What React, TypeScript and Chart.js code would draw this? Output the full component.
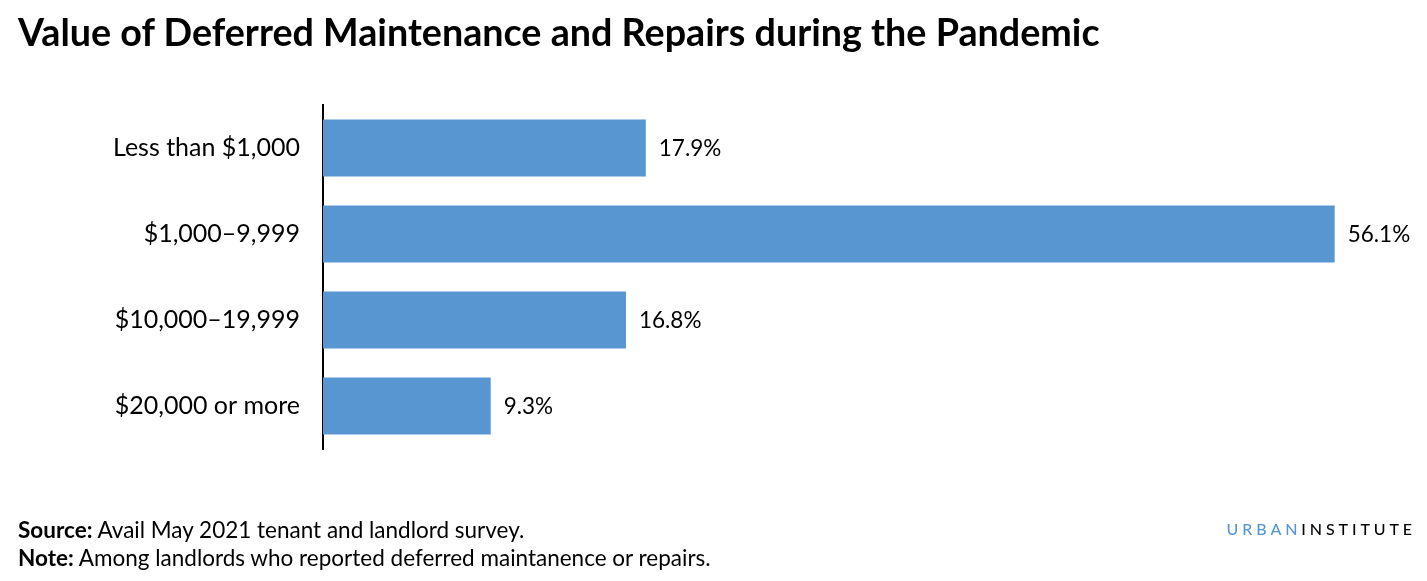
import React, { useEffect, useRef } from "react";
import { Chart, registerables } from "chart.js";

Chart.register(...registerables);

const categories = ["Less than $1,000", "$1,000–9,999", "$10,000–19,999", "$20,000 or more"];
const values = [17.9, 56.1, 16.8, 9.3];
const valueLabels = ["17.9%", "56.1%", "16.8%", "9.3%"];

const BAR_COLOR = "#5796d1";
const FONT = "Lato, 'Noto Sans', sans-serif";

const valueLabelPlugin = {
  id: "valueLabels",
  afterDatasetsDraw(chart: any) {
    const { ctx } = chart;
    const meta = chart.getDatasetMeta(0);
    ctx.save();
    ctx.font = `22.5px ${FONT}`;
    ctx.fillStyle = "#000";
    ctx.textAlign = "left";
    ctx.textBaseline = "middle";
    meta.data.forEach((bar: any, i: number) => {
      ctx.fillText(valueLabels[i], bar.x + 13, bar.y + 1);
    });
    ctx.restore();
  },
};

export default function App() {
  const ref = useRef<HTMLCanvasElement>(null);
  useEffect(() => {
    if (!ref.current) return;
    const chart = new Chart(ref.current, {
      type: "bar",
      data: {
        labels: categories,
        datasets: [
          {
            data: values,
            backgroundColor: BAR_COLOR,
            borderWidth: 0,
            barPercentage: 0.665,
            categoryPercentage: 1,
          },
        ],
      },
      options: {
        indexAxis: "y",
        animation: false,
        responsive: false,
        maintainAspectRatio: false,
        layout: { padding: { top: 97, bottom: 124, left: 0, right: 14 } },
        plugins: { legend: { display: false }, tooltip: { enabled: false } },
        scales: {
          x: { display: false, min: 0, max: 60 },
          y: {
            afterFit: (scale: any) => {
              scale.width = 315;
            },
            grid: { display: false, drawTicks: false },
            border: { display: true, color: "#000", width: 2 },
            ticks: {
              padding: 23,
              color: "#000",
              font: { family: FONT, size: 25 },
            },
          },
        },
      },
      plugins: [valueLabelPlugin],
    });
    return () => chart.destroy();
  }, []);

  return (
    <div style={{ position: "relative", width: 1411, height: 565, fontFamily: FONT, color: "#000" }}>
      <canvas ref={ref} width={1411} height={565} style={{ position: "absolute", left: 0, top: 0 }} />
      <div
        style={{
          position: "absolute",
          left: 10,
          top: 5,
          fontSize: 37.7,
          fontWeight: 700,
          lineHeight: 1,
          whiteSpace: "nowrap",
        }}
      >
        Value of Deferred Maintenance and Repairs during the Pandemic
      </div>
      <div
        style={{
          position: "absolute",
          left: 10,
          top: 508,
          fontSize: 22.5,
          lineHeight: "28px",
          whiteSpace: "nowrap",
        }}
      >
        <div>
          <b>Source:</b> Avail May 2021 tenant and landlord survey.
        </div>
        <div>
          <b>Note:</b> Among landlords who reported deferred maintanence or repairs.
        </div>
      </div>
      <div
        style={{
          position: "absolute",
          right: 3,
          top: 513,
          fontSize: 16,
          letterSpacing: 3.9,
          lineHeight: 1,
          whiteSpace: "nowrap",
          fontWeight: 500,
        }}
      >
        <span style={{ color: BAR_COLOR }}>URBAN</span>INSTITUTE
      </div>
    </div>
  );
}
